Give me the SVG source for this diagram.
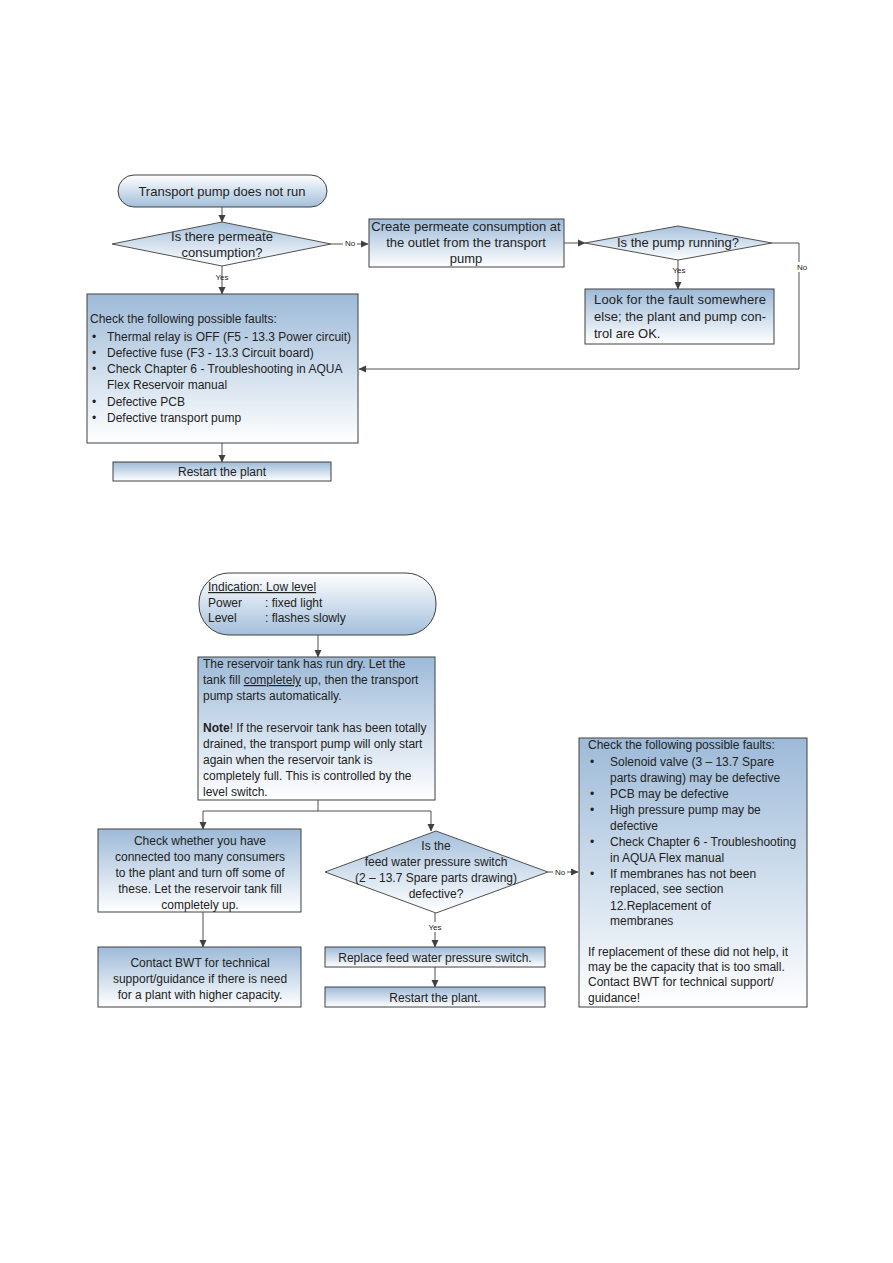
<svg xmlns="http://www.w3.org/2000/svg" width="893" height="1263" viewBox="0 0 893 1263">
<defs>
<linearGradient id="gBox" x1="0" y1="0" x2="0" y2="1">
<stop offset="0" stop-color="#9dbad8"/>
<stop offset="1" stop-color="#ffffff"/>
</linearGradient>
<linearGradient id="gTerm" x1="0" y1="0" x2="0" y2="1">
<stop offset="0" stop-color="#ffffff"/>
<stop offset="1" stop-color="#a3bfdb"/>
</linearGradient>
<linearGradient id="gDia" x1="0" y1="0" x2="0" y2="1">
<stop offset="0" stop-color="#a6c1dc"/>
<stop offset="1" stop-color="#ffffff"/>
</linearGradient>
<marker id="arr" markerWidth="8" markerHeight="8" refX="7" refY="4" orient="auto" markerUnits="userSpaceOnUse">
<path d="M0,0.5 L7.5,4 L0,7.5 Z" fill="#404040"/>
</marker>
</defs>
<style>
.box{fill:url(#gBox);stroke:#404040;stroke-width:1}
.term{fill:url(#gTerm);stroke:#404040;stroke-width:1}
.dia{fill:url(#gDia);stroke:#505050;stroke-width:1}
.ln{fill:none;stroke:#505050;stroke-width:1}
.ar{fill:none;stroke:#505050;stroke-width:1;marker-end:url(#arr)}
text{font-family:"Liberation Sans",Arial,sans-serif;font-size:12px;fill:#222}
.c{text-anchor:middle}
.s{font-size:8px}
</style>
<rect width="893" height="1263" fill="#ffffff"/>

<g id="connectors">
<line class="ar" x1="222" y1="207" x2="222" y2="222"/>
<line class="ar" x1="331" y1="244" x2="368" y2="244"/>
<line class="ar" x1="564" y1="243" x2="585" y2="243"/>
<polyline class="ar" points="772,243 799,243 799,369 359,369"/>
<line class="ar" x1="678" y1="260" x2="678" y2="289"/>
<line class="ar" x1="222" y1="266" x2="222" y2="294"/>
<line class="ar" x1="222" y1="443" x2="222" y2="462"/>
<line class="ar" x1="318" y1="635" x2="318" y2="657"/>
<line class="ln" x1="318" y1="800" x2="318" y2="811"/>
<polyline class="ar" points="431,811 203,811 203,829"/>
<line class="ar" x1="431" y1="811" x2="431" y2="831"/>
<line class="ar" x1="203" y1="912" x2="203" y2="947"/>
<line class="ar" x1="548" y1="872" x2="578" y2="872"/>
<line class="ar" x1="435" y1="913" x2="435" y2="947"/>
<line class="ar" x1="435" y1="967" x2="435" y2="987"/>
<rect x="343" y="238" width="14" height="10" fill="#fff"/>
<text class="s c" x="350" y="246">No</text>
<text class="s c" x="222" y="280">Yes</text>
<text class="s c" x="679" y="273">Yes</text>
<rect x="794" y="262" width="14" height="10" fill="#fff"/>
<text class="s c" x="802" y="270">No</text>
<rect x="553" y="867" width="14" height="10" fill="#fff"/>
<text class="s c" x="560" y="875">No</text>
<rect x="428" y="922" width="16" height="10" fill="#fff"/>
<text class="s c" x="435" y="930">Yes</text>
</g>

<g id="n_start">
<rect class="term" x="118" y="175" width="209" height="32" rx="16"/>
<text class="c" x="222" y="196" style="font-size:13px">Transport pump does not run</text>
</g>

<g id="n_q1">
<polygon class="dia" points="222,222 331,244 222,266 112,244"/>
<text class="c" x="222" y="241" style="font-size:13px">Is there permeate</text>
<text class="c" x="222" y="257" style="font-size:13px">consumption?</text>
</g>

<g id="n_create">
<rect class="box" x="369" y="219" width="195" height="48"/>
<text class="c" x="466" y="231" style="font-size:13px">Create permeate consumption at</text>
<text class="c" x="466" y="247" style="font-size:13px">the outlet from the transport</text>
<text class="c" x="466" y="263" style="font-size:13px">pump</text>
</g>

<g id="n_q2">
<polygon class="dia" points="678,226 772,243 678,260 585,243"/>
<text class="c" x="678" y="247" style="font-size:13px">Is the pump running?</text>
</g>

<g id="n_else">
<rect class="box" x="585" y="289" width="189" height="55"/>
<text x="594" y="304" textLength="172" lengthAdjust="spacing" style="font-size:13px">Look for the fault somewhere</text>
<text x="594" y="321" textLength="172" lengthAdjust="spacing" style="font-size:13px">else; the plant and pump con-</text>
<text x="594" y="338" style="font-size:13px">trol are OK.</text>
</g>

<g id="n_faults1">
<rect class="box" x="87" y="294" width="271" height="149"/>
<text x="90" y="323">Check the following possible faults:</text>
<text x="92" y="341">•</text><text x="107" y="341">Thermal relay is OFF (F5 - 13.3 Power circuit)</text>
<text x="92" y="357">•</text><text x="107" y="357">Defective fuse (F3 - 13.3 Circuit board)</text>
<text x="92" y="373">•</text><text x="107" y="373">Check Chapter 6 - Troubleshooting in AQUA</text>
<text x="107" y="389">Flex Reservoir manual</text>
<text x="92" y="406">•</text><text x="107" y="406">Defective PCB</text>
<text x="92" y="422">•</text><text x="107" y="422">Defective transport pump</text>
</g>

<g id="n_restart1">
<rect class="box" x="113" y="462" width="218" height="19"/>
<text class="c" x="222" y="476">Restart the plant</text>
</g>

<g id="n_indication">
<rect class="term" x="199" y="573" width="237" height="62" rx="30"/>
<text x="208" y="591" text-decoration="underline">Indication: Low level</text>
<text x="208" y="607">Power</text><text x="265" y="607">: fixed light</text>
<text x="208" y="622">Level</text><text x="265" y="622">: flashes slowly</text>
</g>

<g id="n_dry">
<rect class="box" x="198" y="657" width="237" height="143"/>
<text x="203" y="668">The reservoir tank has run dry. Let the</text>
<text x="203" y="684">tank fill <tspan text-decoration="underline">completely</tspan> up, then the transport</text>
<text x="203" y="700">pump starts automatically.</text>
<text x="203" y="732"><tspan font-weight="bold">Note</tspan>! If the reservoir tank has been totally</text>
<text x="203" y="748">drained, the transport pump will only start</text>
<text x="203" y="764">again when the reservoir tank is</text>
<text x="203" y="780">completely full. This is controlled by the</text>
<text x="203" y="796">level switch.</text>
</g>

<g id="n_consumers">
<rect class="box" x="98" y="829" width="203" height="83"/>
<text class="c" x="200" y="845">Check whether you have</text>
<text class="c" x="200" y="861">connected too many consumers</text>
<text class="c" x="200" y="877">to the plant and turn off some of</text>
<text class="c" x="200" y="893">these. Let the reservoir tank fill</text>
<text class="c" x="200" y="909">completely up.</text>
</g>

<g id="n_contact">
<rect class="box" x="98" y="947" width="203" height="60"/>
<text class="c" x="200" y="967">Contact BWT for technical</text>
<text class="c" x="200" y="983">support/guidance if there is need</text>
<text class="c" x="200" y="999">for a plant with higher capacity.</text>
</g>

<g id="n_q3">
<polygon class="dia" points="436,831 548,872 436,913 325,872"/>
<text class="c" x="436" y="850">Is the</text>
<text class="c" x="436" y="866">feed water pressure switch</text>
<text class="c" x="436" y="882">(2 – 13.7 Spare parts drawing)</text>
<text class="c" x="436" y="898">defective?</text>
</g>

<g id="n_replace">
<rect class="box" x="325" y="947" width="220" height="20"/>
<text class="c" x="435" y="962">Replace feed water pressure switch.</text>
</g>

<g id="n_restart2">
<rect class="box" x="325" y="987" width="220" height="20"/>
<text class="c" x="435" y="1002">Restart the plant.</text>
</g>

<g id="n_faults2">
<rect class="box" x="579" y="738" width="228" height="269"/>
<text x="588" y="749">Check the following possible faults:</text>
<text x="590" y="766">•</text><text x="610" y="766">Solenoid valve (3 – 13.7 Spare</text>
<text x="610" y="782">parts drawing) may be defective</text>
<text x="590" y="798">•</text><text x="610" y="798">PCB may be defective</text>
<text x="590" y="814">•</text><text x="610" y="814">High pressure pump may be</text>
<text x="610" y="830">defective</text>
<text x="590" y="846">•</text><text x="610" y="846">Check Chapter 6 - Troubleshooting</text>
<text x="610" y="862">in AQUA Flex manual</text>
<text x="590" y="878">•</text><text x="610" y="878">If membranes has not been</text>
<text x="610" y="893">replaced, see section</text>
<text x="610" y="910">12.Replacement of</text>
<text x="610" y="925">membranes</text>
<text x="588" y="956">If replacement of these did not help, it</text>
<text x="588" y="971">may be the capacity that is too small.</text>
<text x="588" y="986">Contact BWT for technical support/</text>
<text x="588" y="1002">guidance!</text>
</g>
</svg>
